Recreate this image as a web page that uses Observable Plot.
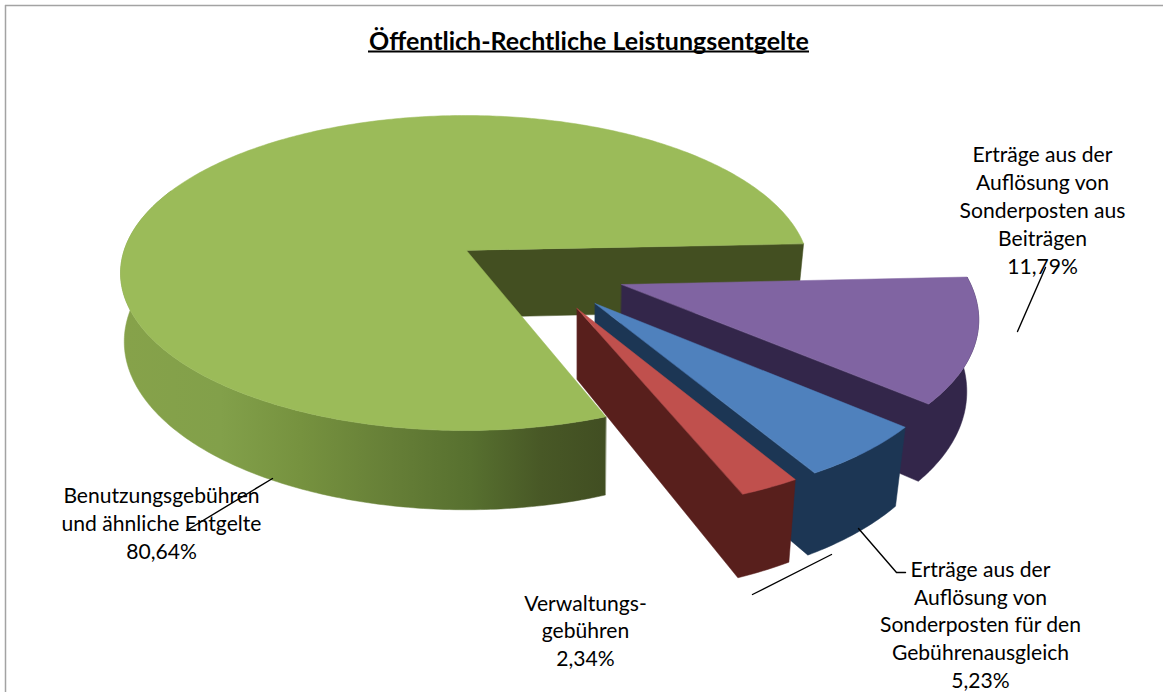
<!DOCTYPE html>
<html lang="de">
<head>
<meta charset="utf-8">
<script src="https://cdn.jsdelivr.net/npm/d3@7"></script>
<script src="https://cdn.jsdelivr.net/npm/@observablehq/plot@0.6"></script>
<style>
  html, body { margin: 0; padding: 0; background: #fff; }
  svg { display: block; }
</style>
</head>
<body>
<div id="chart"></div>
<script>
// Shares in percent, in drawing order starting at the right-hand edge of the pie.
const sliceNames = [
  "Erträge aus der\nAuflösung von\nSonderposten aus\nBeiträgen",
  "Erträge aus der\nAuflösung von\nSonderposten für den\nGebührenausgleich",
  "Verwaltungs-\ngebühren",
  "Benutzungsgebühren\nund ähnliche Entgelte"
];
const sliceValues = [11.79, 5.23, 2.34, 80.64];
const topColors = ["#8064a2", "#4f81bd", "#c0504d", "#9bbb59"];
const sideColors = ["#33264a", "#1c3654", "#581f1c", "#434f21"];

// Pull-out of each slice on the pie plane, as a fraction of the radius.
const explode = [[0.442, 0.214], [0.36, 0.328], [0.308, 0.357], [0, 0]];

const labelX = [1042, 980, 585, 161];
const labelY = [208.5, 623, 629, 521.5];
const leaders = [
  [[1017, 331], [1045, 267]],
  [[858, 528], [896, 572], [905, 572]],
  [[752, 594], [831, 554]],
  [[186, 530], [272, 478]]
];

// Perspective view of the pie.
const view = {cx: 466, cy: 250, rx: 341, ry: 154.3, tiltY: 0.1429, tiltX: 0.004};
const startAngle = -2.5;

const project = (u, v) => {
  const w = 1 - view.tiltY * v + view.tiltX * u;
  return {x: view.cx + view.rx * u / w, y: view.cy + view.ry * v / w};
};
// Bottom rim of a point on the top surface; verticals lean in towards the pie's foot.
const drop = ({x, y}) => ({
  x: x - (x - 580) * (x < 580 ? 0.008 : 0.03),
  y: y + 67 + 0.068 * (y - 250)
});

const rad = d3.scaleLinear().domain([0, 180]).range([0, Math.PI]);
// Angles open up slightly on the side nearest the viewer.
const warp = (deg) => deg + 2.2 * Math.sin(rad(deg));

let running = startAngle;
const slices = sliceValues.map((value, i) => {
  const a0 = running;
  const a1 = running + value * 3.6;
  running = a1;
  const [ox, oy] = explode[i];
  const at = (deg) => {
    const t = rad(warp(deg));
    return project(ox + Math.cos(t), oy + Math.sin(t));
  };
  return {i, a0, a1, at, apex: project(ox, oy), top: topColors[i], side: sideColors[i]};
});

const poly = (points, color) =>
  Plot.line(points, {x: "x", y: "y", fill: color, stroke: color, strokeWidth: 0.5, curve: "linear-closed"});

const arcPoints = (s, from, to) => d3.range(from, to, 0.75).concat(to).map(s.at);

// Outer wall of the large slice shades from light on the left to dark at its cut.
const shadeStops = [
  [125, "#86a24a"], [220, "#82a04a"], [300, "#76923f"], [390, "#667f37"],
  [470, "#57702f"], [540, "#485826"], [605, "#414e22"]
];
const svgNS = "http://www.w3.org/2000/svg";
const shadeDefs = (index, scales) => {
  const defs = document.createElementNS(svgNS, "defs");
  const gradient = document.createElementNS(svgNS, "linearGradient");
  gradient.setAttribute("id", "green-wall");
  gradient.setAttribute("gradientUnits", "userSpaceOnUse");
  gradient.setAttribute("x1", scales.x(shadeStops[0][0]));
  gradient.setAttribute("x2", scales.x(shadeStops[shadeStops.length - 1][0]));
  gradient.setAttribute("y1", 0);
  gradient.setAttribute("y2", 0);
  const span = shadeStops[shadeStops.length - 1][0] - shadeStops[0][0];
  for (const [pos, color] of shadeStops) {
    const stop = document.createElementNS(svgNS, "stop");
    stop.setAttribute("offset", (pos - shadeStops[0][0]) / span);
    stop.setAttribute("stop-color", color);
    gradient.append(stop);
  }
  defs.append(gradient);
  return defs;
};

const sliceMarks = (s) => {
  const out = [];
  if (s.i === 3) {
    // Cut face at the closing edge, then the shaded outer wall.
    const closing = s.at(s.a1);
    out.push(poly([s.apex, closing, drop(closing), drop(s.apex)], s.side));
    const arc = arcPoints(s, s.a0, 205);
    out.push(poly([...arc, ...arc.slice().reverse().map(drop)], "url(#green-wall)"));
  } else {
    // Outer wall and cut face joined into one outline.
    const arc = arcPoints(s, s.a0, s.a1);
    out.push(poly([
      s.apex,
      ...arc.slice().reverse(),
      ...arc.map(drop),
      drop(s.apex)
    ], s.side));
  }
  out.push(poly([s.apex, ...arcPoints(s, s.a0, s.a1)], s.top));
  return out;
};

const percent = (v) => v.toFixed(2).replace(".", ",") + "%";
const labels = sliceNames.map((name, i) => ({
  text: `${name}\n${percent(sliceValues[i])}`,
  x: labelX[i],
  y: labelY[i]
}));

const font = "Lato, sans-serif";
const frameColor = "#a3a3a3";

const chart = Plot.plot({
  width: 1163,
  height: 692,
  margin: 0,
  x: {domain: [0, 1163], range: [0, 1163], axis: null},
  y: {domain: [0, 692], range: [0, 692], axis: null},
  style: {background: "#fff", fontFamily: font},
  marks: [
    shadeDefs,
    Plot.ruleY([5], {x1: 5, x2: 1163, stroke: frameColor, strokeWidth: 1.5}),
    Plot.ruleX([5], {y1: 5, y2: 692, stroke: frameColor, strokeWidth: 1.5}),
    // Back to front: the large slice, then the pulled-out slices.
    ...sliceMarks(slices[3]),
    ...sliceMarks(slices[0]),
    ...sliceMarks(slices[1]),
    ...sliceMarks(slices[2]),
    Plot.text(["Öffentlich-Rechtliche Leistungsentgelte"], {
      x: 588.5, y: 41, text: (d) => d, fontSize: 25, fontWeight: 700, fill: "#000", fontFamily: font
    }),
    Plot.ruleY([51], {x1: 368, x2: 809, stroke: "#000", strokeWidth: 2}),
    Plot.text(labels, {
      x: "x", y: "y", text: "text", fontSize: 21.1, lineHeight: 1.32, fill: "#000",
      lineAnchor: "middle", fontFamily: font
    }),
    ...leaders.map((pts) =>
      Plot.line(pts, {x: (d) => d[0], y: (d) => d[1], stroke: "#000", strokeWidth: 1.4}))
  ]
});
document.getElementById("chart").append(chart);
</script>
</body>
</html>
